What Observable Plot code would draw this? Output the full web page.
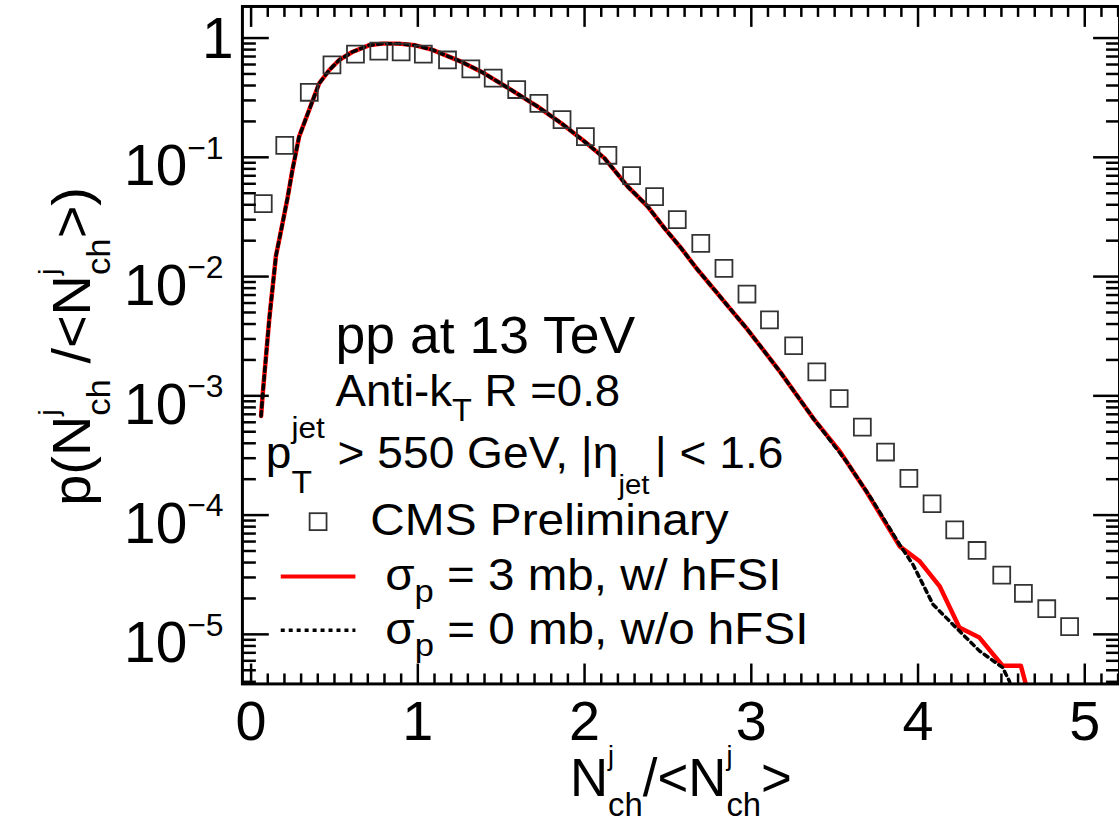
<!DOCTYPE html>
<html><head><meta charset="utf-8">
<script src="https://cdn.jsdelivr.net/npm/d3@7"></script>
<script src="https://cdn.jsdelivr.net/npm/@observablehq/plot@0.6"></script>
<style>
html,body{margin:0;padding:0;background:#fff;overflow:hidden;}
#wrap{width:1119px;height:822px;overflow:hidden;position:relative;background:#fff;}
svg text{white-space:pre;}
</style></head><body><div id="wrap"></div>
<script>
// ---- data ----
const cmsX = [0.073,0.202,0.349,0.485,0.626,0.766,0.900,1.033,1.178,1.318,1.452,1.593,1.726,1.865,2.005,2.140,2.282,2.420,2.556,2.697,2.836,2.974,3.109,3.254,3.393,3.527,3.666,3.805,3.945,4.084,4.220,4.354,4.502,4.632,4.772,4.909];
const cmsY = [0.0409,0.126,0.351,0.595,0.734,0.778,0.764,0.734,0.655,0.551,0.461,0.370,0.283,0.207,0.149,0.104,0.0703,0.0468,0.0300,0.0190,0.0117,0.00714,0.00434,0.00263,0.00159,9.5e-4,5.46e-4,3.38e-4,2.03e-4,1.245e-4,7.52e-5,5.05e-5,3.14e-5,2.21e-5,1.64e-5,1.16e-5];

const hfsiX = [0.060,0.069,0.109,0.149,0.179,0.219,0.248,0.288,0.348,0.408,0.468,0.527,0.607,0.706,0.786,0.885,0.985,1.084,1.263,1.383,1.562,1.721,1.860,2.000,2.119,2.258,2.378,2.478,2.577,2.676,2.776,2.875,2.975,3.075,3.174,3.273,3.373,3.532,3.691,3.890,4.010,4.129,4.248,4.368,4.507,4.617,4.647,4.680];
const hfsiY = [6.78e-4,1.01e-3,4.40e-3,0.0149,0.0240,0.0459,0.0785,0.149,0.249,0.416,0.537,0.652,0.764,0.869,0.898,0.898,0.869,0.800,0.631,0.520,0.366,0.265,0.193,0.1355,0.0984,0.0570,0.0388,0.0256,0.01746,0.01151,0.00783,0.00533,0.00363,0.00239,0.00158,0.00101,6.44e-4,3.40e-4,1.57e-4,5.47e-5,4.10e-5,2.54e-5,1.14e-5,9.39e-6,5.45e-6,5.45e-6,3.8e-6,2.6e-6];

const nohfsiX = [0.060,0.069,0.109,0.149,0.179,0.219,0.248,0.288,0.348,0.408,0.468,0.527,0.607,0.706,0.786,0.885,0.985,1.084,1.263,1.383,1.562,1.721,1.860,2.000,2.119,2.258,2.378,2.478,2.577,2.676,2.776,2.875,2.975,3.075,3.174,3.273,3.373,3.572,3.731,3.890,3.970,4.090,4.209,4.368,4.507,4.547,4.590];
const nohfsiY = [6.78e-4,1.01e-3,4.40e-3,0.0149,0.0240,0.0459,0.0785,0.149,0.249,0.416,0.537,0.652,0.764,0.869,0.898,0.898,0.869,0.800,0.631,0.520,0.366,0.265,0.193,0.1355,0.0984,0.0570,0.0388,0.0256,0.01746,0.01151,0.00783,0.00533,0.00363,0.00239,0.00158,0.00101,6.44e-4,2.80e-4,1.30e-4,5.64e-5,3.84e-5,1.78e-5,1.21e-5,7.27e-6,5.27e-6,4.08e-6,2.6e-6];

const xMajorTicks = [0,1,2,3,4,5];
const xTickLabels = ["0","1","2","3","4","5"];
const yMajorTicks = [1e-5,1e-4,1e-3,1e-2,1e-1,1];
const yTickExponents = ["−5","−4","−3","−2","−1",""];

// ---- build ----
const FONT = "'Liberation Sans', Arial, Helvetica, sans-serif";
const cms = cmsX.map((x,i)=>({x, y:cmsY[i]}));
const hfsi = hfsiX.map((x,i)=>({x, y:hfsiY[i]}));
const nohfsi = nohfsiX.map((x,i)=>({x, y:nohfsiY[i]}));

const xDomain = [-0.052, 5.2082];
const yDomain = [3.84e-6, 1.84];
const xMinorTicks = d3.range(1, 53).map(i => i/10).filter(v => Math.abs(v - Math.round(v)) > 1e-6);
const yMinorTicks = [];
for (let e = -6; e <= 0; e++) for (let m = 2; m <= 9; m++) {
  const v = m * Math.pow(10, e);
  if (v >= yDomain[0] && v <= yDomain[1]) yMinorTicks.push(v);
}
const noText = () => "";
const tk = {label: null, tickFormat: noText, strokeWidth: 2.5, stroke: "black"};

const svgPlot = Plot.plot({
  width: 1124, height: 822,
  marginLeft: 243, marginRight: 0, marginTop: 6, marginBottom: 135.5,
  x: {domain: xDomain},
  y: {type: "log", domain: yDomain},
  style: {fontFamily: FONT, background: "white", color: "black", overflow: "visible"},
  marks: [
    Plot.line(hfsi, {x: "x", y: "y", stroke: "#ff0000", strokeWidth: 4.5, clip: true}),
    Plot.line(nohfsi, {x: "x", y: "y", stroke: "black", strokeWidth: 3.5, strokeDasharray: "4.5,4.5", clip: true}),
    Plot.dot(cms, {x: "x", y: "y", symbol: "square", r: 9.6, stroke: "#333", strokeWidth: 1.8, fill: "none"}),
    Plot.frame({stroke: "black", strokeWidth: 3}),
    Plot.axisX({anchor: "bottom", ticks: xMajorTicks, tickSize: -20, ...tk}),
    Plot.axisX({anchor: "bottom", ticks: xMinorTicks, tickSize: -10, ...tk}),
    Plot.axisX({anchor: "top", ticks: xMajorTicks, tickSize: -20, ...tk}),
    Plot.axisX({anchor: "top", ticks: xMinorTicks, tickSize: -10, ...tk}),
    Plot.axisY({anchor: "left", ticks: yMajorTicks, tickSize: -27, ...tk}),
    Plot.axisY({anchor: "left", ticks: yMinorTicks, tickSize: -14, ...tk}),
    Plot.axisY({anchor: "right", ticks: yMajorTicks, tickSize: -27, ...tk}),
    Plot.axisY({anchor: "right", ticks: yMinorTicks, tickSize: -14, ...tk}),
    Plot.axisX({anchor: "bottom", ticks: xMajorTicks, tickSize: 0, tickPadding: 17, fontSize: 56, label: null,
      tickFormat: d => xTickLabels[xMajorTicks.indexOf(d)]}),
    Plot.axisY({anchor: "left", ticks: yMajorTicks, tickSize: 0, tickPadding: 19, fontSize: 57, label: null,
      tickFormat: d => "E" + yTickExponents[yMajorTicks.indexOf(d)]})
  ]
});
document.getElementById("wrap").appendChild(svgPlot);

// rich text for y tick labels (10^k)
const NS = "http://www.w3.org/2000/svg";
svgPlot.querySelectorAll("text").forEach(t => {
  const s = t.textContent;
  if (s.startsWith("E")) {
    const ex = s.slice(1);
    t.textContent = "";
    const a = document.createElementNS(NS, "tspan");
    if (ex === "") { a.setAttribute("dy", "2"); a.setAttribute("dx", "10"); a.textContent = "1"; t.append(a); }
    else {
      a.setAttribute("dy", "10"); a.textContent = "10";
      const b = document.createElementNS(NS, "tspan");
      b.setAttribute("dy", "-27"); b.setAttribute("font-size", "32"); b.textContent = ex;
      t.append(a, b);
    }
  }
});

const svg = d3.select(svgPlot);
function rich(parts, {x, y, anchor = "start", rotate = 0, target = null}) {
  const g = svg.append("g").attr("font-family", FONT).attr("fill", "black").attr("text-anchor", "start");
  const inner = g.append("g");
  let cur = 0, prevStart = 0;
  for (const p of parts) {
    const start = (p.stack ? prevStart : cur) + (p.gap || 0);
    const t = inner.append("text").attr("x", start).attr("y", p.sh || 0).attr("text-anchor", "start")
      .attr("font-size", p.fs).style("white-space", "pre").text(p.t);
    const w = t.node().getComputedTextLength();
    cur = p.stack ? Math.max(cur, start + w) : start + w;
    prevStart = start;
  }
  const sx = target ? target / cur : 1;
  const total = cur * sx;
  const shift = anchor === "middle" ? -total / 2 : anchor === "end" ? -total : 0;
  inner.attr("transform", `translate(${shift},0) scale(${sx},1)`);
  g.attr("transform", `translate(${x},${y}) rotate(${rotate})`);
}

// axis titles
rich([{t: "N", fs: 53}, {t: "j", fs: 27, sh: -32}, {t: "ch", fs: 33, sh: 20, stack: true},
      {t: "/<N", fs: 53}, {t: "j", fs: 27, sh: -32}, {t: "ch", fs: 33, sh: 20, stack: true},
      {t: ">", fs: 53}], {x: 684, y: 800, anchor: "middle"});
rich([{t: "p(N", fs: 53}, {t: "j", fs: 27, sh: -32}, {t: "ch", fs: 33, sh: 20, stack: true},
      {t: " /<N", fs: 53}, {t: "j", fs: 27, sh: -32}, {t: "ch", fs: 33, sh: 20, stack: true},
      {t: ">)", fs: 53}], {x: 90, y: 188, anchor: "end", rotate: -90, target: 320});

// annotation block
rich([{t: "pp at 13 TeV", fs: 52}], {x: 337, y: 355, target: 301});
rich([{t: "Anti-k", fs: 45}, {t: "T", fs: 32, sh: 15}, {t: " R =0.8", fs: 45}], {x: 337, y: 408, target: 286});
rich([{t: "p", fs: 44}, {t: "jet", fs: 30, sh: -30}, {t: "T", fs: 32, sh: 25, stack: true},
      {t: " > 550 GeV, |η", fs: 44}, {t: "jet", fs: 28, sh: 26}, {t: "| < 1.6", fs: 44, gap: 5}],
     {x: 267, y: 470, target: 520});
rich([{t: "CMS Preliminary", fs: 44}], {x: 372, y: 537, target: 360});
rich([{t: "σ", fs: 44}, {t: "p", fs: 32, sh: 12}, {t: " = 3 mb, w/ hFSI", fs: 44}], {x: 387, y: 593, target: 398});
rich([{t: "σ", fs: 44}, {t: "p", fs: 32, sh: 12}, {t: " = 0 mb, w/o hFSI", fs: 44}], {x: 387, y: 647, target: 425});

// legend symbols
svg.append("rect").attr("x", 311).attr("y", 515.5).attr("width", 17).attr("height", 17)
  .attr("fill", "none").attr("stroke", "#333").attr("stroke-width", 1.8);
svg.append("line").attr("x1", 282).attr("x2", 357).attr("y1", 579).attr("y2", 579)
  .attr("stroke", "#ff0000").attr("stroke-width", 4);
svg.append("line").attr("x1", 282).attr("x2", 357).attr("y1", 633).attr("y2", 633)
  .attr("stroke", "black").attr("stroke-width", 3.5).attr("stroke-dasharray", "4,4");
</script></body></html>
